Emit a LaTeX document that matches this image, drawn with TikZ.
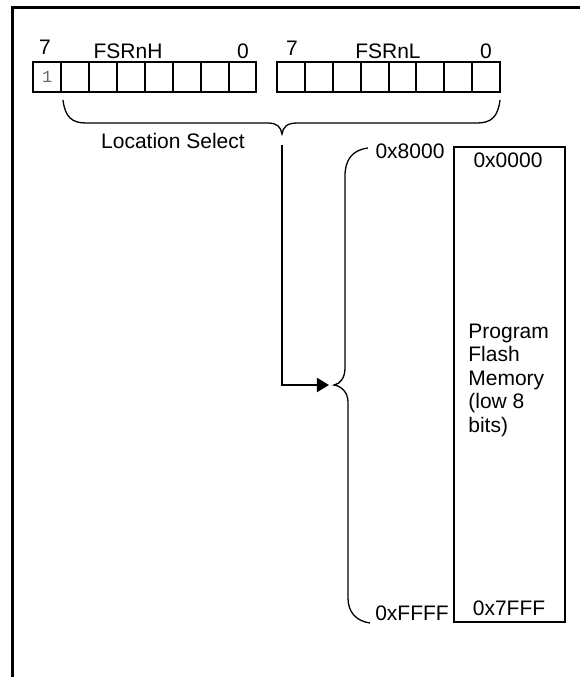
\documentclass[tikz,border=0pt]{standalone}
\usepackage{fontspec}
\setmainfont{Liberation Sans}
\setmonofont{Liberation Mono}
\usepackage{tikz}
\usetikzlibrary{arrows.meta}
\tikzstyle{bitcell} = [rectangle, draw=black, line width=1pt, minimum width=13.95pt, minimum height=15pt, inner sep=0pt, outer sep=0pt]
\tikzstyle{txt}     = [inner sep=0pt, anchor=base, font=\fontsize{10.5}{12}\selectfont]
\tikzstyle{memory}  = [rectangle, draw=black, line width=1pt, minimum width=55.5pt, minimum height=237.5pt, inner sep=0pt]
\tikzstyle{brace}   = [line width=0.65pt]
\tikzstyle{arrow}   = [line width=1pt, -{Triangle[length=6pt,width=7pt]}]
\tikzstyle{frame}   = [line width=1.5pt]

\begin{document}
\begin{tikzpicture}[x=0.5pt, y=-0.5pt]
    \useasboundingbox (0,0) rectangle (580,677);
    \draw [frame] (13,677) |- (580,7);

    % registers
    \node (h0) [bitcell, text=black!60, font=\ttfamily\fontsize{8.5}{10}\selectfont] at (47.25,77) {1};
    \foreach \i in {1,...,7}
        \node (h\i) [bitcell] at ({47.25+27.9*\i},77) {};
    \foreach \i in {0,...,7}
        \node (l\i) [bitcell] at ({290.95+27.9*\i},77) {};

    \node (hmsb)  [txt] at (45,54)  {7};
    \node (hname) [txt] at (128,58) {FSRnH};
    \node (hlsb)  [txt] at (243,58) {0};
    \node (lmsb)  [txt] at (292,55) {7};
    \node (lname) [txt] at (388,58) {FSRnL};
    \node (llsb)  [txt] at (486,58) {0};

    % location select brace
    \draw [brace] (63,100) .. controls (65,117) and (72,123) .. (86,123) -- (268,123)
        .. controls (277,123) and (281,127) .. (282,134)
        .. controls (283,127) and (287,123) .. (297,123) -- (477,123)
        .. controls (491,123) and (498,117) .. (500,100);
    \node (select) [txt] at (173,148) {Location Select};

    % memory
    \node (mem) [memory] at (509.5,384.5) {};
    \node (memtxt) [txt, anchor=west, align=left, font=\fontsize{10.5}{11.75}\selectfont] at (468,380) {Program\\Flash\\Memory\\(low 8\\bits)};
    \node (mtop) [txt] at (508,167) {0x0000};
    \node (mbot) [txt] at (509,615) {0x7FFF};

    % address brace
    \draw [brace] (368,148) .. controls (352,150) and (345,160) .. (345,176) -- (345,368)
        .. controls (345,378) and (340,384) .. (334,385)
        .. controls (341,386) and (348,392) .. (348,402) -- (348,598)
        .. controls (348,612) and (356,621) .. (370,623);
    \node (atop) [txt] at (410,158) {0x8000};
    \node (abot) [txt] at (412,620) {0xFFFF};

    % arrows
    \coordinate (selout) at (282,145);
    \coordinate (memin)  at (329,385);
    \draw [arrow] (selout) |- (memin);
\end{tikzpicture}
\end{document}
